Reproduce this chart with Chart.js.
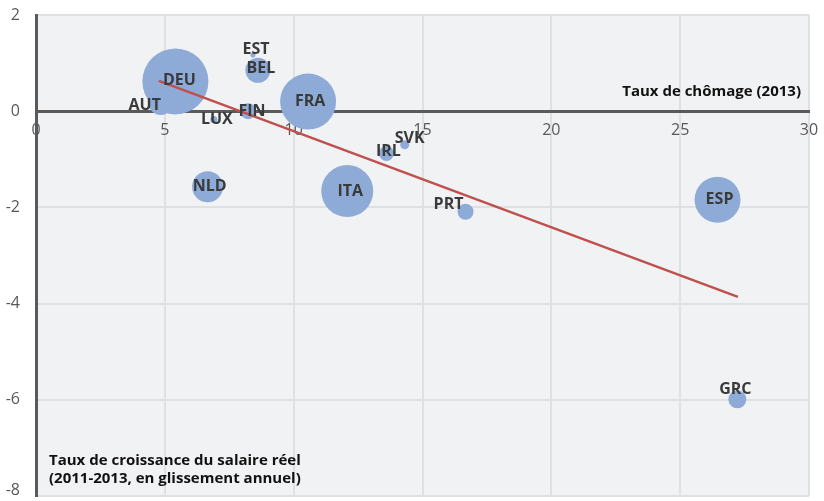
<!DOCTYPE html>
<html><head><meta charset="utf-8">
<script src="https://cdn.jsdelivr.net/npm/chart.js@4.4.1/dist/chart.umd.min.js"></script>
<style>html,body{margin:0;padding:0;background:#fff;} canvas{display:block;}</style>
</head><body>
<canvas id="c" width="824" height="501"></canvas>
<script>
// ---- data ----
const countries        = ['AUT','DEU','EST','BEL','LUX','FIN','FRA','NLD','IRL','SVK','ITA','PRT','ESP','GRC'];
const unemployment2013 = [4.84, 5.41, 8.42, 8.61, 6.90, 8.23, 10.56, 6.66, 13.60, 14.31, 12.08, 16.67, 26.45, 27.22];
const realWageGrowth   = [0.17, 0.62, 1.17, 0.85, -0.17, 0.00, 0.20, -1.57, -0.88, -0.70, -1.66, -2.09, -1.84, -5.99];
const bubbleSize       = [12, 33, 2.5, 12.5, 3.5, 8, 28, 15.5, 7.5, 4.5, 26, 8, 23, 9];
const trendX = [4.77, 27.24];
const trendY = [0.63, -3.86];
const xTickValues = [0, 5, 10, 15, 20, 25, 30];
const yTickValues = [-8, -6, -4, -2, 0, 2];
const xAxisTitle = 'Taux de chômage (2013)';
const yAxisTitle = ['Taux de croissance du salaire réel', '(2011-2013, en glissement annuel)'];

// ---- styles / label placement ----
const labelOffset = {
  AUT:[-16,2], DEU:[4,-1], EST:[3,-5], BEL:[3,-2], LUX:[3,0], FIN:[4,0], FRA:[2,0],
  NLD:[2,0], IRL:[2,-2], SVK:[5,-6], ITA:[3,0], PRT:[-17,-7], ESP:[2,0], GRC:[-2,-10]
};
const FONT = "'Open Sans', sans-serif";
Chart.defaults.font.family = FONT;

const bubbles = countries.map((c, i) => ({x: unemployment2013[i], y: realWageGrowth[i], r: bubbleSize[i], label: c}));
const trend = trendX.map((x, i) => ({x, y: trendY[i]}));
const yMin = Math.min(...yTickValues);

const plotBg = {
  id: 'plotBg',
  beforeDraw(chart) {
    const {ctx, chartArea: a} = chart;
    ctx.save();
    ctx.fillStyle = '#f1f2f4';
    ctx.fillRect(a.left, a.top, a.right - a.left, a.bottom - a.top);
    ctx.restore();
  }
};

const annotations = {
  id: 'annotations',
  afterDatasetsDraw(chart) {
    const {ctx, chartArea: a} = chart;
    const meta = chart.getDatasetMeta(1);
    ctx.save();
    ctx.font = "bold 16px " + FONT;
    ctx.fillStyle = '#3a3a3a';
    ctx.textAlign = 'center';
    ctx.textBaseline = 'middle';
    meta.data.forEach((el, i) => {
      const c = countries[i];
      const o = labelOffset[c] || [0,0];
      ctx.fillText(c, el.x + o[0], el.y + o[1]);
    });
    // axis titles
    ctx.fillStyle = '#111111';
    ctx.font = "bold 15px " + FONT;
    ctx.textAlign = 'right';
    ctx.fillText(xAxisTitle, a.right - 8, chart.scales.y.getPixelForValue(0) - 19);
    ctx.textAlign = 'left';
    ctx.fillText(yAxisTitle[0], a.left + 13, a.bottom - 35);
    ctx.fillText(yAxisTitle[1], a.left + 13, a.bottom - 17);
    ctx.restore();
  }
};

new Chart(document.getElementById('c'), {
  type: 'bubble',
  data: {
    datasets: [
      {
        type: 'line',
        data: trend,
        borderColor: '#c0504d',
        borderWidth: 2.5,
        pointRadius: 0,
        fill: false,
        tension: 0
      },
      {
        data: bubbles,
        backgroundColor: '#8eabd8',
        borderWidth: 0,
        hoverBorderWidth: 0,
        clip: false
      }
    ]
  },
  options: {
    responsive: false,
    animation: false,
    devicePixelRatio: 1,
    layout: { autoPadding: false, padding: { left: 6, right: 15, top: 15, bottom: 5 } },
    plugins: { legend: { display: false }, tooltip: { enabled: false } },
    scales: {
      x: {
        type: 'linear',
        min: 0, max: 30,
        position: { y: 0 },
        afterBuildTicks: s => { s.ticks = xTickValues.map(v => ({value: v})); },
        afterFit: s => { s.paddingLeft = 0; s.paddingRight = 0; },
        ticks: { color: '#595959', font: { size: 16 }, padding: 10 },
        grid: { color: '#dfe0e3', lineWidth: 2, drawTicks: false },
        border: { color: '#5a5a5a', width: 3 }
      },
      y: {
        type: 'linear',
        min: -8, max: 2,
        afterBuildTicks: s => { s.ticks = yTickValues.map(v => ({value: v})); },
        afterFit: s => { s.width = 30; s.paddingTop = 0; s.paddingBottom = 0; },
        ticks: {
          color: '#595959',
          padding: 16,
          // lowest label is lifted inside the canvas, as in the reference
          font: c => (c.tick && c.tick.value === yMin) ? { size: 16, lineHeight: 0.75 } : { size: 16 },
          callback: v => (v === yMin ? [String(v), ''] : String(v))
        },
        grid: { color: '#dfe0e3', lineWidth: 2, drawTicks: false },
        border: { color: '#5a5a5a', width: 3 }
      }
    }
  },
  plugins: [plotBg, annotations]
});
</script>
</body></html>
